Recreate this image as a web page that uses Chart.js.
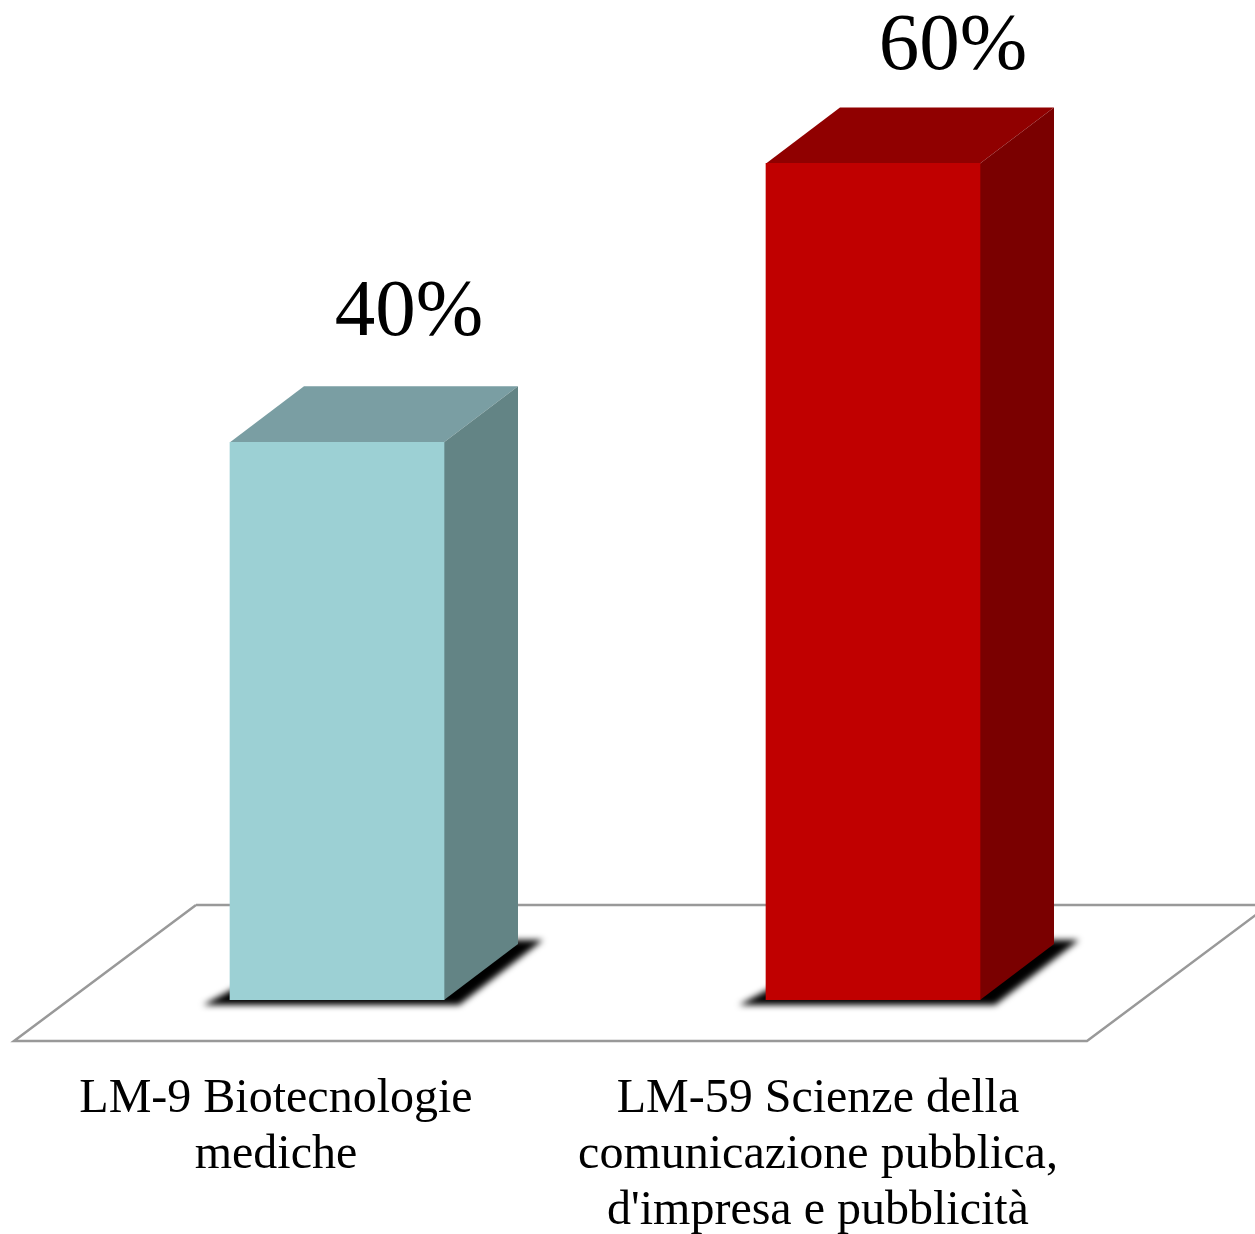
<!DOCTYPE html>
<html>
<head>
<meta charset="utf-8">
<title>LM-9 / LM-59</title>
<script src="https://cdn.jsdelivr.net/npm/chart.js@4/dist/chart.umd.min.js"></script>
<style>
html, body { margin: 0; padding: 0; background: #fff; overflow: hidden; }
canvas { display: block; }
</style>
</head>
<body>
<canvas id="chart" width="1255" height="1234"></canvas>
<script>
const categories = [
    ['LM-9 Biotecnologie', 'mediche'],
    ['LM-59 Scienze della', 'comunicazione pubblica,', "d'impresa e pubblicità"]
];
const values = [40, 60];
const valueLabels = ['40%', '60%'];

const frontColors = ['#9cd0d4', '#c00000'];
const sideColors = ['#638485', '#7a0000'];
const topColors = ['#7a9ea3', '#900000'];

// nudges, the labels do not sit exactly on the bar centres
const valueLabelX = [72, 80];
const valueLabelY = [-107, -94];
const categoryLabelX = [-61, -55];

const depthX = 74;
const depthY = -56;
const serif = '"Liberation Serif", "Times New Roman", serif';

function poly(ctx, pts, color) {
    ctx.fillStyle = color;
    ctx.beginPath();
    ctx.moveTo(pts[0][0], pts[0][1]);
    for (let i = 1; i < pts.length; i++) ctx.lineTo(pts[i][0], pts[i][1]);
    ctx.closePath();
    ctx.fill();
}

const bars3d = {
    id: 'bars3d',
    beforeDatasetsDraw(chart) {
        const ctx = chart.ctx;
        const base = chart.scales.y.getPixelForValue(0);
        const area = chart.chartArea;
        const bars = chart.getDatasetMeta(0).data;

        // floor
        const fl = area.left - 55, fr = area.right - 54, fy = base + 41;
        ctx.save();
        ctx.strokeStyle = '#999999';
        ctx.lineWidth = 2.5;
        ctx.beginPath();
        ctx.moveTo(fl + 182, fy - 136);
        ctx.lineTo(fl, fy);
        ctx.lineTo(fr, fy);
        ctx.lineTo(fr + 182, fy - 136);
        ctx.moveTo(fl + 182, fy - 136);
        ctx.lineTo(fr + 182, fy - 136);
        ctx.stroke();
        ctx.restore();

        bars.forEach((bar, i) => {
            const l = bar.x - bar.width / 2, r = bar.x + bar.width / 2, t = bar.y;

            // shadow under the bar
            ctx.save();
            ctx.filter = 'blur(3px)';
            poly(ctx, [
                [l - 27, base + 5], [r + 15, base + 5],
                [r + 99, base - 60], [r + 70, base - 60],
                [l + 20, base - 20]
            ], '#000000');
            ctx.restore();

            poly(ctx, [[l, t], [l + depthX, t + depthY], [r + depthX, t + depthY], [r, t]], topColors[i]);
            poly(ctx, [[r, t], [r + depthX, t + depthY], [r + depthX, base + depthY], [r, base]], sideColors[i]);
        });
    },
    afterDatasetsDraw(chart) {
        const ctx = chart.ctx;
        const bars = chart.getDatasetMeta(0).data;
        const xScale = chart.scales.x;
        const base = chart.scales.y.getPixelForValue(0);
        ctx.save();
        ctx.fillStyle = '#000000';
        ctx.textAlign = 'center';
        ctx.textBaseline = 'alphabetic';

        ctx.font = '81px ' + serif;
        bars.forEach((bar, i) => {
            ctx.fillText(valueLabels[i], bar.x + valueLabelX[i], bar.y + valueLabelY[i]);
        });

        ctx.font = '48px ' + serif;
        categories.forEach((lines, i) => {
            const x = xScale.getPixelForValue(i) + categoryLabelX[i];
            lines.forEach((line, j) => {
                ctx.fillText(line, x, base + 112 + j * 56);
            });
        });
        ctx.restore();
    }
};

new Chart(document.getElementById('chart').getContext('2d'), {
    type: 'bar',
    data: {
        labels: categories,
        datasets: [{
            data: values,
            backgroundColor: frontColors,
            borderWidth: 0,
            barThickness: 214
        }]
    },
    options: {
        responsive: false,
        animation: false,
        devicePixelRatio: 1,
        layout: { padding: { left: 69, right: 114, top: 24, bottom: 234 } },
        plugins: { legend: { display: false }, tooltip: { enabled: false } },
        scales: {
            x: { display: false },
            y: { display: false, min: 0, max: 70 }
        }
    },
    plugins: [bars3d]
});
</script>
</body>
</html>
